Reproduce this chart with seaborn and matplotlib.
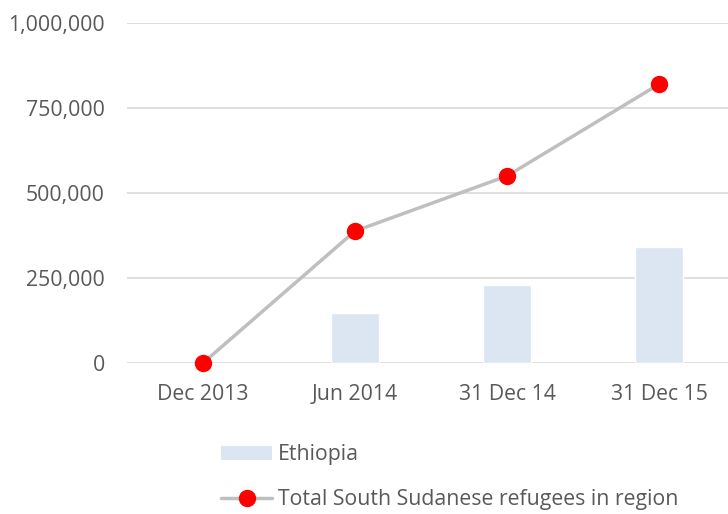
import numpy as np
import pandas as pd
import matplotlib
matplotlib.use('Agg')
import matplotlib.pyplot as plt
import seaborn as sns
from matplotlib.patches import Patch
from matplotlib.lines import Line2D
from matplotlib.ticker import FuncFormatter

# values
periods = ['Dec 2013', 'Jun 2014', '31 Dec 14', '31 Dec 15']
ethiopia = [np.nan, 147000, 229000, 341000]
total_region = [0, 388000, 550000, 820000]

df = pd.DataFrame({'period': periods, 'Ethiopia': ethiopia, 'Total': total_region})

sns.set_style('white')
plt.rcParams['font.family'] = ['Open Sans', 'DejaVu Sans']
text_col = '#595959'
fs = 15.3

fig = plt.figure(figsize=(7.28, 5.14), dpi=100)
ax = fig.add_axes([127 / 728, 1 - 363 / 514, 1 - 127 / 728, (363 - 23) / 514])

sns.barplot(data=df, x='period', y='Ethiopia', color='#DCE6F2', saturation=1,
            width=0.31, ax=ax, zorder=2)
ax.plot(np.arange(len(periods)), df['Total'], color='#BFBFBF', lw=2.5,
        marker='o', markersize=11.5, markerfacecolor='#FF0000',
        markeredgecolor='#FF0000', zorder=3, clip_on=False)

ax.set_ylim(0, 1000000)
ax.set_xlim(-0.5, (728 - 203) / 152)
ax.set_yticks([0, 250000, 500000, 750000, 1000000])
ax.yaxis.set_major_formatter(FuncFormatter(lambda v, p: f'{int(v):,}'))
ax.grid(axis='y', color='#D9D9D9', lw=1.2, zorder=0)
ax.set_axisbelow(True)
for s in ax.spines.values():
    s.set_visible(False)
ax.tick_params(length=0, labelsize=fs, labelcolor=text_col)
ax.tick_params(axis='x', pad=15)
ax.tick_params(axis='y', pad=16)
ax.set_xlabel('')
ax.set_ylabel('')

handles = [Patch(facecolor='#DCE6F2', edgecolor='none'),
           Line2D([], [], color='#BFBFBF', lw=2.5, marker='o', markersize=11.5,
                  markerfacecolor='#FF0000', markeredgecolor='#FF0000')]
leg = fig.legend(handles, ['Ethiopia', 'Total South Sudanese refugees in region'],
                 loc='upper left', bbox_to_anchor=(202 / 728, 1 - 425 / 514),
                 frameon=False, fontsize=fs, handlelength=2.4,
                 handleheight=0.65, handletextpad=0.28, labelspacing=1.12,
                 labelcolor=text_col)

fig.savefig('out.png', dpi=100)
